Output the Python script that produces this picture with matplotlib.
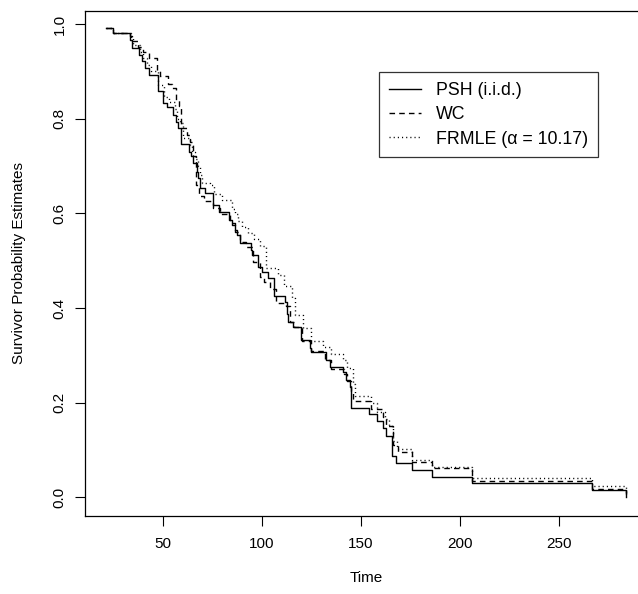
import matplotlib
matplotlib.use("Agg")
import matplotlib.pyplot as plt

plt.rcParams['font.family'] = ['Liberation Sans', 'DejaVu Sans']

# PSH (i.i.d.) step function: event times and survival after each step
psh_t = [21.4, 25, 33.5, 34.3, 38.2, 39.3, 41, 43.2, 47.4, 50, 52.3, 55.3, 56.5, 57.9, 59,
         63.4, 64.2, 65.4, 67.1, 67.9, 68.8, 71.3, 75.5, 78.5, 83.5, 85.2, 86.4, 87.6, 88.9,
         94.3, 95.3, 97.9, 99.9, 102.9, 106.2, 111.6, 112.5, 113.3, 115.8, 120, 124.2, 125,
         132.3, 134.3, 141, 142.4, 144.4, 145.2, 154.1, 158.2, 161.2, 162.6, 165.9, 167.9,
         176, 186.1, 206.3, 266.8, 284]
psh_s = [0.992, 0.980, 0.966, 0.949, 0.934, 0.922, 0.906, 0.892, 0.858, 0.834, 0.825, 0.808,
         0.792, 0.780, 0.746, 0.730, 0.720, 0.706, 0.688, 0.674, 0.653, 0.642, 0.618, 0.603,
         0.586, 0.575, 0.565, 0.554, 0.538, 0.522, 0.512, 0.487, 0.477, 0.463, 0.425, 0.413,
         0.387, 0.371, 0.360, 0.332, 0.315, 0.306, 0.290, 0.276, 0.265, 0.248, 0.232, 0.189,
         0.175, 0.161, 0.146, 0.130, 0.087, 0.073, 0.058, 0.0435, 0.0296, 0.0154, 0.0005]

# WC step function
wc_t = [21.4, 25, 33.5, 34.5, 37.5, 40, 43, 47.2, 48.5, 52.5, 54.5, 56.5, 58, 59.4, 62, 63.6,
        65.5, 67, 68.5, 71, 75.5, 79, 84, 86.5, 89, 92, 95.5, 99, 101, 104, 107.1, 112, 114,
        116, 120.5, 125, 132, 135, 141.5, 143, 145, 146, 155, 161, 162.5, 166, 168.6, 176,
        186.1, 206.3, 266.8, 284]
wc_s = [0.992, 0.980, 0.975, 0.963, 0.952, 0.940, 0.929, 0.900, 0.889, 0.873, 0.865, 0.840,
        0.826, 0.780, 0.766, 0.750, 0.720, 0.660, 0.637, 0.625, 0.612, 0.598, 0.580, 0.560,
        0.540, 0.528, 0.498, 0.466, 0.455, 0.440, 0.410, 0.404, 0.370, 0.360, 0.330, 0.310,
        0.290, 0.270, 0.260, 0.245, 0.225, 0.204, 0.187, 0.170, 0.150, 0.110, 0.096, 0.075,
        0.061, 0.034, 0.017, 0.008]

# FRMLE (alpha = 10.17) step function
fr_t = [21.4, 25, 33.8, 35, 38.5, 40, 42, 44, 47.5, 50.5, 53, 56, 57, 58.5, 60, 64, 65, 66.5,
        68, 69, 70, 74, 76, 80, 85, 86.5, 88, 90, 93, 96, 99, 102, 108, 111, 115, 117, 121,
        125, 131, 135, 141, 143, 146, 147, 155, 158, 162, 164, 166, 168, 176, 186.1, 206.3,
        266.8, 284]
fr_s = [0.992, 0.980, 0.970, 0.955, 0.940, 0.928, 0.913, 0.900, 0.870, 0.845, 0.835, 0.820,
        0.800, 0.790, 0.760, 0.745, 0.730, 0.715, 0.700, 0.680, 0.665, 0.660, 0.640, 0.628,
        0.610, 0.598, 0.584, 0.570, 0.558, 0.545, 0.530, 0.484, 0.470, 0.447, 0.420, 0.385,
        0.357, 0.331, 0.318, 0.303, 0.290, 0.273, 0.240, 0.214, 0.200, 0.180, 0.165, 0.150,
        0.120, 0.101, 0.078, 0.063, 0.040, 0.024, 0.012]

labels = ["PSH (i.i.d.)", "WC", "FRMLE (α = 10.17)"]
x_ticks = [50, 100, 150, 200, 250]
y_ticks = [0.0, 0.2, 0.4, 0.6, 0.8, 1.0]

W, H = 638, 594
fig = plt.figure(figsize=(W / 100, H / 100), dpi=100)
L, R, T, B = 85, 648, 10.7, 516
ax = fig.add_axes([L / W, (H - B) / H, (R - L) / W, (B - T) / H])

ax.step(psh_t, psh_s, where='post', color='black', lw=1.0, label=labels[0])
l2, = ax.step(wc_t, wc_s, where='post', color='black', lw=1.0, label=labels[1])
l2.set_dashes((4, 3))
l3, = ax.step(fr_t, fr_s, where='post', color='black', lw=1.0, label=labels[2])
l3.set_dashes((0.8, 2.2))

ax.set_xlim(10.77, 294.9)
ax.set_ylim(-0.0395, 1.028)
ax.set_xticks(x_ticks)
ax.set_xticklabels([str(v) for v in x_ticks])
ax.set_yticks(y_ticks)
ax.set_yticklabels([f"{v:.1f}" for v in y_ticks], rotation=90, va='center')
ax.tick_params(direction='out', length=7.2, width=0.8, labelsize=11, pad=8)
ax.tick_params(axis='y', pad=6)
for s in ax.spines.values():
    s.set_linewidth(0.9)

ax.set_xlabel("Time", fontsize=11, labelpad=14)
ax.set_ylabel("Survivor Probability Estimates", fontsize=11, labelpad=19)

leg = ax.legend(loc='upper left', bbox_to_anchor=(379 / W, 1 - 72 / H),
                bbox_transform=fig.transFigure, fontsize=12.8, frameon=True,
                fancybox=False, edgecolor='black', borderpad=0.55, labelspacing=0.42,
                handlelength=1.8, handletextpad=0.85, borderaxespad=0)
leg.get_frame().set_linewidth(0.9)

fig.savefig("out.png", dpi=100)
